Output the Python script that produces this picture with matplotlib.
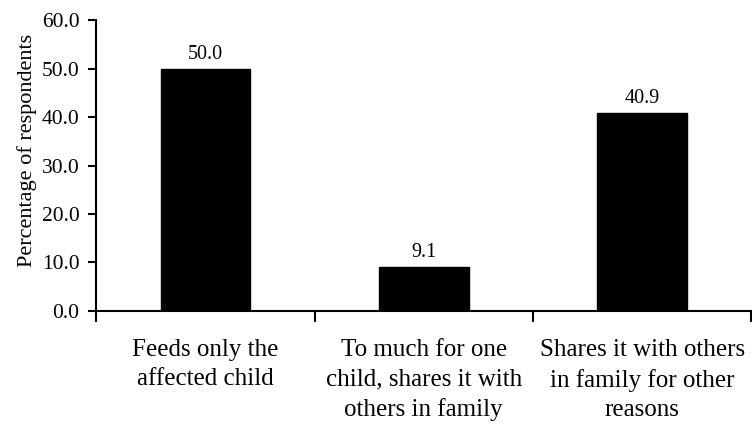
import numpy as np
import matplotlib.pyplot as plt

categories = ["Feeds only the\naffected child",
              "To much for one\nchild, shares it with\nothers in family",
              "Shares it with others\nin family for other\nreasons"]
values = [50.0, 9.1, 40.9]
y_ticks = [0, 10, 20, 30, 40, 50, 60]

plt.rcParams['font.family'] = ['Liberation Serif', 'DejaVu Serif']

fig = plt.figure(figsize=(7.52, 4.26), dpi=100)
ax = fig.add_axes([0.128, 0.270, 0.871, 0.683])

x = np.arange(len(categories))
ax.bar(x, values, width=0.41, color='black', edgecolor='black')

# value on top of each bar
for xi, v in zip(x, values):
    ax.text(xi, v + 1.0, f"{v:.1f}", ha='center', va='bottom', fontsize=14.5)

ax.set_xlim(-0.5, len(categories) - 0.5)
ax.set_ylim(0, 60)
ax.set_yticks(y_ticks)
ax.set_yticklabels([f"{t:.1f}" for t in y_ticks], fontsize=15.5)
ax.set_ylabel("Percentage of respondents", fontsize=16)
ax.yaxis.set_label_coords(-0.09, 0.553)

# major ticks sit on the category borders, labels go on minor ticks
ax.set_xticks(np.arange(len(categories) + 1) - 0.5)
ax.set_xticklabels([])
ax.set_xticks(x, minor=True)
ax.set_xticklabels(categories, minor=True, fontsize=18, linespacing=1.45)
ax.tick_params(axis='x', which='major', length=8, width=1.5, direction='out')
ax.tick_params(axis='x', which='minor', length=0, pad=20)
ax.tick_params(axis='y', length=6, width=1.5, direction='out', pad=6)

for side in ['top', 'right']:
    ax.spines[side].set_visible(False)
for side in ['left', 'bottom']:
    ax.spines[side].set_linewidth(1.5)

fig.savefig("out.png", dpi=100)
